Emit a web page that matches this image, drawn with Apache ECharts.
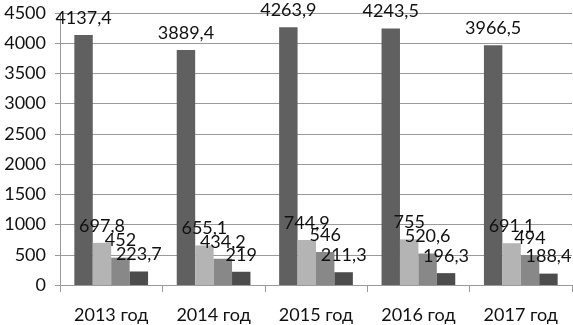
<!DOCTYPE html>
<html>
<head>
<meta charset="utf-8">
<script src="https://cdn.jsdelivr.net/npm/echarts@6/dist/echarts.min.js"></script>
<style>
  html, body { margin: 0; padding: 0; background: #fff; }
  #chart { width: 573px; height: 325px; }
</style>
</head>
<body>
<div id="chart"></div>
<script>
const categories = ['2013 год', '2014 год', '2015 год', '2016 год', '2017 год'];
const seriesA = [4137.4, 3889.4, 4263.9, 4243.5, 3966.5];
const seriesB = [697.8, 655.1, 744.9, 755, 691.1];
const seriesC = [452, 434.2, 546, 520.6, 494];
const seriesD = [223.7, 219, 211.3, 196.3, 188.4];
const barColors = ['#606060', '#b4b4b4', '#888888', '#4c4c4c'];

const fontFamily = 'Lato, "Open Sans", sans-serif';

const makeSeries = (data, color) => ({
  type: 'bar',
  data: data,
  barGap: '0%',
  barCategoryGap: '28%',
  itemStyle: { color: color },
  label: {
    show: true,
    position: 'top',
    distance: 8,
    color: '#111',
    fontSize: 18,
    fontFamily: fontFamily,
    formatter: p => String(p.value).replace('.', ',')
  }
});

const myChart = echarts.init(document.getElementById('chart'));
myChart.setOption({
  animation: false,
  grid: { left: 60, right: 1, top: 13, bottom: 40 },
  xAxis: {
    type: 'category',
    data: categories,
    axisLine: { lineStyle: { color: '#9a9a9a', width: 1 } },
    axisTick: { show: true, length: 7, lineStyle: { color: '#9a9a9a' } },
    axisLabel: { color: '#111', fontSize: 18, fontFamily: fontFamily, margin: 21 }
  },
  yAxis: {
    type: 'value',
    min: 0,
    max: 4500,
    interval: 500,
    axisLine: { show: true, lineStyle: { color: '#9a9a9a', width: 1 } },
    axisTick: { show: true, length: 5, lineStyle: { color: '#9a9a9a' } },
    splitLine: { show: true, lineStyle: { color: '#9a9a9a', width: 1 } },
    axisLabel: {
      color: '#111', fontSize: 18, fontFamily: fontFamily, margin: 14,
      formatter: v => String(v)
    }
  },
  series: [
    makeSeries(seriesA, barColors[0]),
    makeSeries(seriesB, barColors[1]),
    makeSeries(seriesC, barColors[2]),
    makeSeries(seriesD, barColors[3])
  ]
});
</script>
</body>
</html>
